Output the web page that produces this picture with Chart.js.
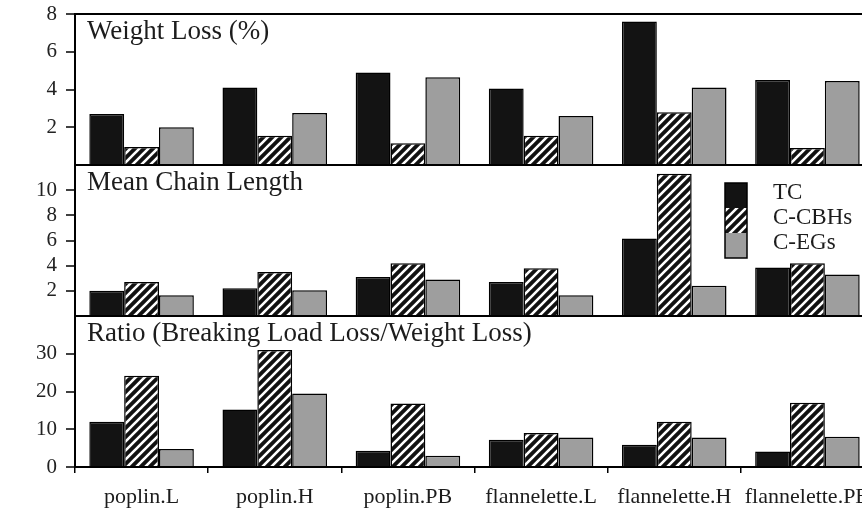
<!DOCTYPE html>
<html><head><meta charset="utf-8">
<script src="https://cdn.jsdelivr.net/npm/chart.js@4/dist/chart.umd.min.js"></script>
<style>html,body{margin:0;padding:0;background:#fff;overflow:hidden;}#wrap{position:relative;width:880px;height:511px;}</style>
</head><body><div id="wrap"><canvas id="c"></canvas></div>
<script>
const categories = ['poplin.L','poplin.H','poplin.PB','flannelette.L','flannelette.H','flannelette.PB'];
const seriesNames = ['TC','C-CBHs','C-EGs'];
const panelTitles = ['Weight Loss (%)','Mean Chain Length','Ratio (Breaking Load Loss/Weight Loss)'];
const weightTC  = [2.7, 4.1, 4.9, 4.05, 7.6, 4.5];
const weightCBH = [0.95, 1.55, 1.15, 1.55, 2.8, 0.9];
const weightEG  = [2.0, 2.75, 4.65, 2.6, 4.1, 4.45];
const chainTC  = [2.0, 2.2, 3.1, 2.7, 6.15, 3.85];
const chainCBH = [2.7, 3.5, 4.2, 3.8, 11.3, 4.2];
const chainEG  = [1.65, 2.05, 2.9, 1.65, 2.4, 3.3];
const ratioTC  = [12.0, 15.2, 4.3, 7.2, 5.9, 4.1];
const ratioCBH = [24.2, 31.0, 16.8, 9.0, 12.0, 17.0];
const ratioEG  = [4.8, 19.5, 3.0, 7.8, 7.8, 8.0];
const weightTicks = [2, 4, 6, 8];
const chainTicks  = [2, 4, 6, 8, 10];
const ratioTicks  = [0, 10, 20, 30];
const weightMax = 8, chainMax = 12, ratioMax = 40;

const SERIF = '"Liberation Serif", "Times New Roman", serif';
function makeHatch(){
  const s = 9, c = document.createElement('canvas'); c.width = s; c.height = s;
  const g = c.getContext('2d');
  g.fillStyle = '#111'; g.fillRect(0,0,s,s);
  g.strokeStyle = '#fff'; g.lineWidth = 2.6;
  g.beginPath();
  g.moveTo(-2, s+2); g.lineTo(s+2, -2);
  g.moveTo(-2, 2); g.lineTo(2, -2);
  g.moveTo(s-2, s+2); g.lineTo(s+2, s-2);
  g.stroke();
  return g.createPattern(c, 'repeat');
}
const fills = ['#131313', makeHatch(), '#9e9e9e'];

function ds(data, axis, idx){
  return { label: seriesNames[idx], data, yAxisID: axis, stack: 's' + idx,
    backgroundColor: fills[idx], borderColor: '#000', borderWidth: 1.5,
    categoryPercentage: 0.785, barPercentage: 1.0 };
}
function yAxis(max, step, tickArr, isTop){
  return { type: 'linear', position: 'left', stack: 'panels', stackWeight: 1,
    min: 0, max, stacked: false,
    afterFit: s => { s.width = 75; s.paddingTop = 0; s.paddingBottom = 0; },
    border: { display: true, color: '#000', width: 2 },
    grid: { drawTicks: true, tickLength: 9, tickWidth: 1.5,
      tickColor: c => (c.tick && tickArr.includes(c.tick.value)) ? '#000' : 'rgba(0,0,0,0)',
      color: c => (c.tick && (c.tick.value === 0 || (isTop && c.tick.value === max))) ? '#000' : 'rgba(0,0,0,0)',
      lineWidth: 2 },
    ticks: { stepSize: step, padding: 9, color: '#222', autoSkip: false,
      font: { family: SERIF, size: 21 },
      callback: v => tickArr.includes(v) ? String(v) : '' } };
}

const deco = { id: 'deco', afterDraw(chart){
  const ctx = chart.ctx, ca = chart.chartArea;
  const ids = ['yWeight','yChain','yRatio'];
  ctx.save();
  ctx.fillStyle = '#1c1c1c';
  ctx.font = '27px ' + SERIF;
  ctx.textBaseline = 'alphabetic'; ctx.textAlign = 'left';
  ids.forEach((id, i) => { const s = chart.scales[id]; ctx.fillText(panelTitles[i], ca.left + 12, s.top + 25); });
  const sc = chart.scales.yChain;
  const lx = ca.left + 650, ly = sc.top + 18, bw = 22, bh = 25;
  for (let i = 0; i < 3; i++){
    ctx.fillStyle = fills[i]; ctx.fillRect(lx, ly + i*bh, bw, bh);
  }
  ctx.strokeStyle = '#000'; ctx.lineWidth = 1.5; ctx.strokeRect(lx, ly, bw, bh*3);
  ctx.fillStyle = '#1c1c1c'; ctx.font = '23px ' + SERIF; ctx.textBaseline = 'middle';
  for (let i = 0; i < 3; i++) ctx.fillText(seriesNames[i], lx + 48, sc.top + 27.5 + i*25);
  ctx.restore();
}};

new Chart(document.getElementById('c'), {
  type: 'bar',
  data: { labels: categories, datasets: [
    ds(ratioTC,'yRatio',0), ds(ratioCBH,'yRatio',1), ds(ratioEG,'yRatio',2),
    ds(chainTC,'yChain',0), ds(chainCBH,'yChain',1), ds(chainEG,'yChain',2),
    ds(weightTC,'yWeight',0), ds(weightCBH,'yWeight',1), ds(weightEG,'yWeight',2)
  ]},
  options: {
    responsive: true, maintainAspectRatio: false, animation: false,
    layout: { padding: { top: 14, right: 6, left: 0, bottom: 0 } },
    plugins: { legend: { display: false }, tooltip: { enabled: false } },
    scales: {
      x: { type: 'category', position: 'bottom',
        afterFit: s => { s.height = 44; s.paddingLeft = 0; s.paddingRight = 0; },
        border: { display: true, color: '#000', width: 2 },
        grid: { offset: true, drawOnChartArea: false, drawTicks: true, tickLength: 6, color: '#000', lineWidth: 1.5 },
        ticks: { padding: 11, color: '#1c1c1c', font: { family: SERIF, size: 22 }, maxRotation: 0, autoSkip: false } },
      yRatio: yAxis(ratioMax, 10, ratioTicks, false),
      yChain: yAxis(chainMax, 2, chainTicks, false),
      yWeight: yAxis(weightMax, 2, weightTicks, true)
    }
  },
  plugins: [deco]
});
</script></body></html>
